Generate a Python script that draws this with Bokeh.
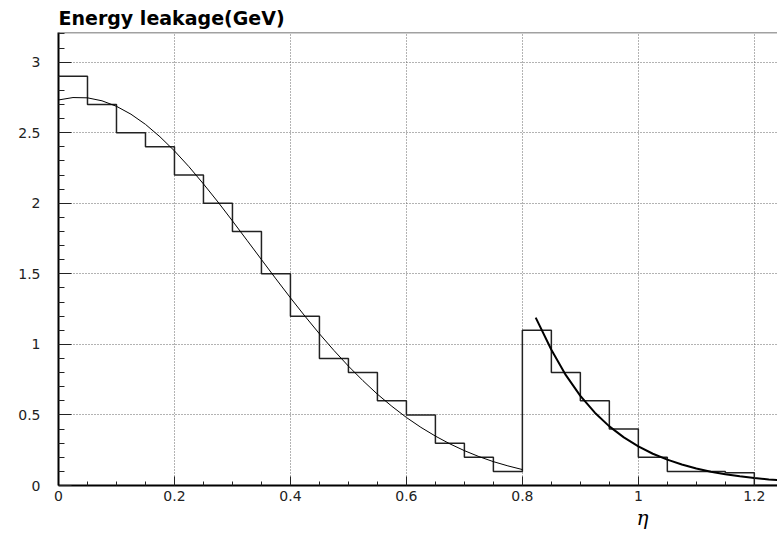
from bokeh.plotting import figure
from bokeh.models import Span, FixedTicker, Range1d, Title
from bokeh.embed import file_html
from bokeh.resources import INLINE

# ---- data ----
bin_edges = [0.0, 0.05, 0.1, 0.15, 0.2, 0.25, 0.3, 0.35, 0.4, 0.45, 0.5, 0.55, 0.6,
             0.65, 0.7, 0.75, 0.8, 0.85, 0.9, 0.95, 1.0, 1.05, 1.1, 1.15, 1.2, 1.25]
bin_values = [2.9, 2.7, 2.5, 2.4, 2.2, 2.0, 1.8, 1.5, 1.2, 0.9, 0.8, 0.6, 0.5,
              0.3, 0.2, 0.1, 1.1, 0.8, 0.6, 0.4, 0.2, 0.1, 0.1, 0.09, 0.0]

fit1_x = [0.0, 0.025, 0.05, 0.075, 0.1, 0.125, 0.15, 0.175, 0.2, 0.225, 0.25, 0.275,
          0.3, 0.325, 0.35, 0.375, 0.4, 0.425, 0.45, 0.475, 0.5, 0.525, 0.55, 0.575,
          0.6, 0.625, 0.65, 0.675, 0.7, 0.725, 0.75, 0.775, 0.8]
fit1_y = [2.732, 2.749, 2.747, 2.726, 2.687, 2.631, 2.559, 2.471, 2.371, 2.259, 2.137, 2.009,
          1.875, 1.738, 1.601, 1.464, 1.330, 1.200, 1.075, 0.957, 0.846, 0.743, 0.647, 0.561,
          0.482, 0.412, 0.350, 0.295, 0.247, 0.205, 0.169, 0.139, 0.113]

fit2_x = [0.823, 0.85, 0.875, 0.9, 0.925, 0.95, 0.975, 1.0, 1.025, 1.05, 1.075, 1.1,
          1.125, 1.15, 1.175, 1.2, 1.225, 1.24]
fit2_y = [1.19, 0.962, 0.782, 0.635, 0.516, 0.419, 0.341, 0.277, 0.225, 0.183, 0.149, 0.121,
          0.098, 0.080, 0.065, 0.053, 0.043, 0.038]

x_ticks = [0.0, 0.2, 0.4, 0.6, 0.8, 1.0, 1.2]
x_tick_labels = ["0", "0.2", "0.4", "0.6", "0.8", "1", "1.2"]
x_minor = [0.05, 0.1, 0.15, 0.25, 0.3, 0.35, 0.45, 0.5, 0.55, 0.65, 0.7, 0.75,
           0.85, 0.9, 0.95, 1.05, 1.1, 1.15]
y_ticks = [0.0, 0.5, 1.0, 1.5, 2.0, 2.5, 3.0]
y_tick_labels = ["0", "0.5", "1", "1.5", "2", "2.5", "3"]
y_minor = [0.1, 0.2, 0.3, 0.4, 0.6, 0.7, 0.8, 0.9, 1.1, 1.2, 1.3, 1.4, 1.6, 1.7, 1.8, 1.9,
           2.1, 2.2, 2.3, 2.4, 2.6, 2.7, 2.8, 2.9, 3.1, 3.2]

title_text = "Energy leakage(GeV)"
x_label_text = "η"

# ---- figure ----
p = figure(width=777, height=533, output_backend="svg", toolbar_location=None,
           x_range=Range1d(0, 1.24), y_range=Range1d(0, 3.21),
           min_border_left=58, min_border_right=0, min_border_top=32, min_border_bottom=48)
p.outline_line_color = None
p.background_fill_color = "white"
p.border_fill_color = "white"

p.title.text = title_text
p.title.align = "left"
p.title.offset = 0
p.title.standoff = 8
p.title.text_font = "DejaVu Sans"
p.title.text_font_style = "bold"
p.title.text_font_size = "19px"
p.title.text_color = "black"

for ax, ticks, minor, labels in ((p.xaxis[0], x_ticks, x_minor, x_tick_labels),
                                 (p.yaxis[0], y_ticks, y_minor, y_tick_labels)):
    ax.ticker = FixedTicker(ticks=ticks, minor_ticks=minor)
    ax.major_label_overrides = {t: l for t, l in zip(ticks, labels)}
    ax.axis_line_width = 2
    ax.axis_line_color = "black"
    ax.major_tick_line_color = "#222"
    ax.minor_tick_line_color = "#222"
    ax.major_tick_out = 0
    ax.minor_tick_out = 0
    ax.major_label_text_font = "DejaVu Sans"
    ax.major_label_text_font_size = "14px"
    ax.major_label_text_color = "#222"

p.xaxis.major_tick_in = 9
p.xaxis.minor_tick_in = 4
p.xaxis.major_label_standoff = 5
p.yaxis.major_tick_in = 13
p.yaxis.minor_tick_in = 6
p.yaxis.major_label_standoff = 18

p.xgrid.ticker = FixedTicker(ticks=x_ticks)
p.ygrid.ticker = FixedTicker(ticks=y_ticks)
p.grid.grid_line_color = "#666"
p.grid.grid_line_dash = "1 2"
p.grid.grid_line_width = 1

p.add_layout(Span(location=3.21, dimension="width", line_color="#444", line_width=1.5))

# histogram outline
p.step(x=bin_edges, y=bin_values + [bin_values[-1]], mode="after",
       line_color="#222", line_width=1.5)
# fits
p.line(fit1_x, fit1_y, line_color="black", line_width=1)
p.line(fit2_x, fit2_y, line_color="black", line_width=2)

eta = Title(text=x_label_text, align="left", offset=578, standoff=0,
            text_font="DejaVu Serif", text_font_style="italic",
            text_font_size="20px", text_color="black")
p.add_layout(eta, "below")

open("out.html", "w").write(file_html(p, INLINE))
